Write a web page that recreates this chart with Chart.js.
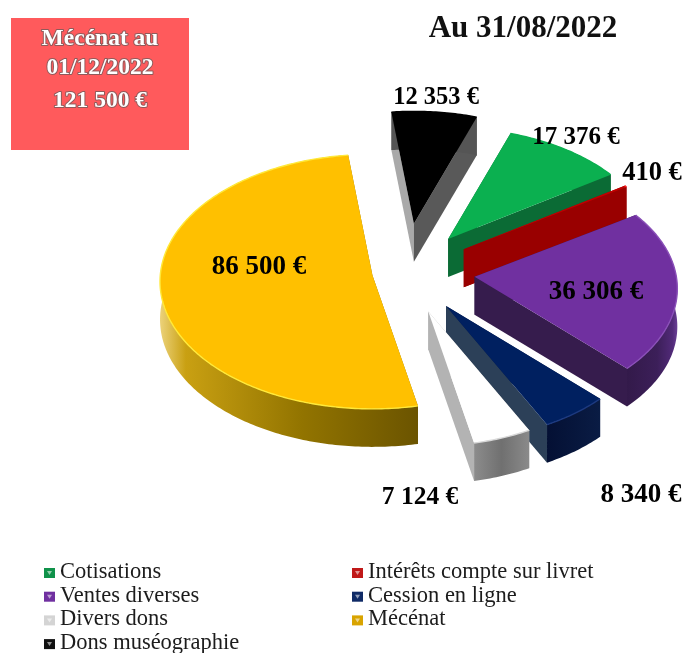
<!DOCTYPE html>
<html lang="fr">
<head>
<meta charset="utf-8">
<style>
html,body{margin:0;padding:0;background:#fff;}
#wrap{position:relative;width:685px;height:653px;overflow:hidden;}
canvas{display:block;}
</style>
<script src="https://cdn.jsdelivr.net/npm/chart.js@4"></script>
</head>
<body>
<div id="wrap"><canvas id="c" width="685" height="653"></canvas></div>
<script>
// ---- data ----
const categories = ["Cotisations","Intérêts compte sur livret","Ventes diverses","Cession en ligne","Divers dons","Mécénat","Dons muséographie"];
const values = [17376, 410, 36306, 8340, 7124, 86500, 12353];
const chartTitle = "Au 31/08/2022";
const boxLines = ["Mécénat au", "01/12/2022", "121 500 €"];

// ---- style ----
const topColors = ["#0BB050","#C00000","#7030A0","#002060","#FFFFFF","#FFC000","#000000"];
const startWall = ["#0b6b35","#990000","#361c4d","#0a1c48","#b3b3b3","#8f7200","#a9a9a9"];
const endWall   = ["#0b6b35","#990000","#361c4d","#2c4058","#b3b3b3","#8f7200","#595959"];
const rimStops  = [
  [[0,"#0b6b35"],[1,"#0b6b35"]],
  [[0,"#990000"],[1,"#990000"]],
  [[0,"#331a4a"],[0.6,"#3c1f59"],[0.9,"#512a78"],[1,"#6a3f95"]],
  [[0,"#041034"],[1,"#0a1c44"]],
  [[0,"#8c8c8c"],[0.5,"#707070"],[1,"#8a8a8a"]],
  [[0,"#ecd27a"],[0.1,"#c9a012"],[0.55,"#927400"],[1,"#6b5400"]],
  [[0,"#555555"],[1,"#555555"]]
];
const edgeGlow = ["#0BB050","#ff2020","#8a50b8","#1d3a80","#d8d8d8","#ffe93a","#000000"];
const explode  = [70,70,70,70,70,33,81];
const sliceScale = [0.99,0.98,0.97,0.98,0.98,1.02,1];
const slicePersp = [0.1,0.1,0.1,0.1,0.1,0.05,0.1];
const labelAt  = [[576,138],[652,173],[596,292],[641,495],[420,497],[259,267],[436,98]];
const labelSize = [25,26.5,27,27,25.5,27,24.5];
const legendIcons = ["#10924a","#c01818","#7030A0","#0f2a66","#d4d4d4","#d9a400","#111111"];
const legendFont = '22.5px "Liberation Serif", serif';
const tilt = 0.6, depth = 38;

function euro(v){ return String(v).replace(/\B(?=(\d{3})+$)/g," ") + " €"; }

const pie3d = {
  id:"pie3d",
  beforeDatasetDraw(chart,args){
    const ctx = chart.ctx, arcs = args.meta.data;
    const mid = a => (a.startAngle + a.endAngle)/2;
    const order = arcs.map((a,i)=>i).sort((p,q)=>Math.sin(mid(arcs[p]))-Math.sin(mid(arcs[q])));
    order.forEach(i=>{
      const a = arcs[i], m = mid(a), e = a.options.offset;
      const ax = a.x + e*Math.cos(m), ay = a.y + tilt*e*Math.sin(m);
      const pt = t => {
        const r = a.outerRadius*sliceScale[i]*(1+slicePersp[i]*Math.sin(t));
        return [ax + r*Math.cos(t), ay + tilt*r*Math.sin(t)];
      };
      const n = Math.max(2,Math.ceil((a.endAngle-a.startAngle)/0.015));
      const rim = [];
      for(let k=0;k<=n;k++) rim.push(pt(a.startAngle+(a.endAngle-a.startAngle)*k/n));
      const s = rim[0], f = rim[n];
      const poly = (pts,fill)=>{
        ctx.beginPath();
        pts.forEach((p,j)=> j?ctx.lineTo(p[0],p[1]):ctx.moveTo(p[0],p[1]));
        ctx.closePath(); ctx.fillStyle=fill; ctx.fill();
      };
      ctx.save();
      poly([[ax,ay],s,[s[0],s[1]+depth],[ax,ay+depth]], startWall[i]);
      poly([[ax,ay],f,[f[0],f[1]+depth],[ax,ay+depth]], endWall[i]);
      const xs = rim.map(p=>p[0]);
      const g = ctx.createLinearGradient(Math.min(...xs),0,Math.max(...xs),0);
      rimStops[i].forEach(st=>g.addColorStop(st[0],st[1]));
      poly(rim.concat(rim.slice().reverse().map(p=>[p[0],p[1]+depth])), g);
      poly([[ax,ay]].concat(rim), topColors[i]);
      ctx.beginPath();
      rim.forEach((p,j)=> j?ctx.lineTo(p[0],p[1]):ctx.moveTo(p[0],p[1]));
      ctx.strokeStyle=edgeGlow[i]; ctx.lineWidth=1.4; ctx.stroke();
      ctx.restore();
    });
    return false;
  },
  afterDraw(chart){
    const ctx = chart.ctx;
    ctx.save();
    // title
    ctx.textAlign="center"; ctx.textBaseline="middle";
    ctx.fillStyle="#111";
    ctx.font='bold 31px "Liberation Serif", serif';
    ctx.fillText(chartTitle,523,29);
    // value labels
    ctx.fillStyle="#000";
    values.forEach((v,i)=>{
      ctx.font='bold '+labelSize[i]+'px "Liberation Serif", serif';
      ctx.fillText(euro(v),labelAt[i][0],labelAt[i][1]);
    });
    // red box
    ctx.fillStyle="#FF5A5C"; ctx.fillRect(11,18,178,132);
    ctx.font='bold 23.5px "Liberation Serif", serif';
    ctx.lineJoin="round";
    boxLines.forEach((t,i)=>{
      const y=[39,68,101][i];
      ctx.lineWidth=2; ctx.strokeStyle="#8f5a5a"; ctx.strokeText(t,100,y);
      ctx.fillStyle="#fff"; ctx.fillText(t,100,y);
    });
    // legend
    ctx.textAlign="left"; ctx.textBaseline="alphabetic"; ctx.font=legendFont;
    categories.forEach((c,i)=>{
      const col=i%2, row=(i-col)/2;
      const y=578+row*23.7, x=col?368:60;
      ctx.fillStyle=legendIcons[i]; ctx.fillRect(x-16,y-10,11,10);
      ctx.fillStyle="rgba(255,255,255,.55)";
      ctx.beginPath(); ctx.moveTo(x-13,y-7); ctx.lineTo(x-8,y-7); ctx.lineTo(x-10.5,y-3); ctx.closePath(); ctx.fill();
      ctx.fillStyle="#1c1c1c"; ctx.fillText(c,x,y);
    });
    ctx.restore();
  }
};

new Chart(document.getElementById("c"),{
  type:"pie",
  data:{labels:categories,datasets:[{data:values,backgroundColor:topColors,offset:explode,borderWidth:0}]},
  options:{
    responsive:false,animation:false,
    rotation:19.5,radius:208,
    layout:{padding:{left:125,right:0,top:0,bottom:109}},
    plugins:{legend:{display:false},tooltip:{enabled:false},title:{display:false}}
  },
  plugins:[pie3d]
});
</script>
</body>
</html>
